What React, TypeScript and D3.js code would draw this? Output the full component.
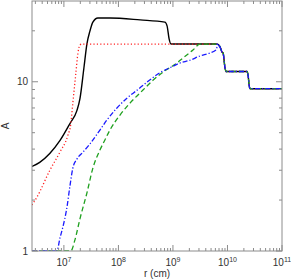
import React from 'react';
import * as d3 from 'd3';

type Pt = [number, number];

// shared step-down tail after all four models converge
const sharedTail: Pt[] = [
  [6.4e9, 16.7], [7.3e9, 16.1], [7.9e9, 15.0], [8.3e9, 14.8], [9.0e9, 12.1], [9.4e9, 11.5],
  [2.28e10, 11.5], [2.4e10, 10.8], [2.5e10, 9.5], [2.6e10, 9.1], [1e11, 9.1]
];

const solidCurve: Pt[] = [
  [2.6e6, 3.16], [3.6e6, 3.34], [5.5e6, 3.77], [8.5e6, 4.5], [1.29e7, 5.66], [1.73e7, 6.75],
  [1.97e7, 7.94], [2.33e7, 12.1], [2.64e7, 16.7], [3.0e7, 19.9], [3.4e7, 22.5], [4.2e7, 23.8],
  [7.0e7, 23.8], [2.5e8, 23.2], [7.1e8, 22.5], [7.8e8, 21.4], [8.5e8, 17.9], [9.2e8, 16.7]
];

const dottedCurve: Pt[] = [
  [2.6e6, 1.87], [3.2e6, 2.08], [5.5e6, 2.99], [8.5e6, 3.85], [1.18e7, 4.81], [1.34e7, 5.66],
  [1.46e7, 7.52], [1.66e7, 11.3], [1.81e7, 14.8], [1.97e7, 16.5], [2.14e7, 16.7]
];

const dashDotCurve: Pt[] = [
  [2.6e6, 1], [7.45e6, 1], [8.45e6, 1.19], [9.6e6, 1.39], [1.14e7, 1.82], [1.29e7, 2.42],
  [1.46e7, 3.09], [1.73e7, 3.49], [2.24e7, 3.84], [3.0e7, 4.29], [4.58e7, 5.18], [6.15e7, 5.94],
  [9.4e7, 7.0], [1.43e8, 8.0], [2.18e8, 8.9], [3.34e8, 9.95], [5.77e8, 11.3], [8.8e8, 12.1],
  [1.34e9, 12.9], [2.05e9, 13.4], [3.13e9, 14.2], [4.78e9, 14.8], [6.15e9, 15.4], [6.7e9, 16.5],
  [7.3e9, 16.0], [7.9e9, 15.0]
];

const dashedCurve: Pt[] = [
  [2.6e6, 1], [1.34e7, 1], [1.59e7, 1.16], [1.97e7, 1.55], [2.64e7, 2.2], [3.4e7, 3.09],
  [4.58e7, 3.95], [5.65e7, 4.53], [6.98e7, 5.18], [1.07e8, 6.36], [1.63e8, 7.48], [2.82e8, 8.93],
  [4.3e8, 10.2], [6.56e8, 11.4], [1.18e9, 12.9], [1.52e9, 13.8], [2.33e9, 15.4], [3.13e9, 16.7]
];

const xDecades = [7, 8, 9, 10, 11];
const yMajor = [1, 10];

const W = 291;
const H = 280;
const margin = { top: 1, right: 9, bottom: 29, left: 32 };
const axisColor = '#8c8c8c';
const textColor = '#333';
const font = '"Liberation Sans", Arial, sans-serif';

export default function App() {
  const x = d3.scaleLog().domain([2.6e6, 1e11]).range([margin.left, W - margin.right]);
  const y = d3.scaleLog().domain([1, 30]).range([H - margin.bottom, margin.top]);
  const [x0, x1] = x.range();
  const [y0, y1] = y.range();

  const line = d3.line<Pt>()
    .x((d) => x(d[0]))
    .y((d) => y(d[1]))
    .curve(d3.curveMonotoneX);

  const tail = sharedTail;
  const series = [
    { data: solidCurve.concat(tail), color: '#000', dash: 'none', width: 1.4 },
    { data: dottedCurve.concat(tail), color: '#ff2020', dash: '1.2,2.2', width: 1.3 },
    { data: dashedCurve.concat(tail), color: '#1fa01f', dash: '5,3', width: 1.3 },
    { data: dashDotCurve.concat(tail), color: '#1a1aff', dash: '5,2,1.2,2', width: 1.3 }
  ];

  const xMinor: number[] = [];
  for (let k = 6; k <= 10; k += 1) {
    for (let m = 2; m <= 9; m += 1) {
      const v = m * 10 ** k;
      if (v > 2.6e6 && v < 1e11) xMinor.push(v);
    }
  }
  const yMinor = [2, 3, 4, 5, 6, 7, 8, 9, 20];

  return (
    <div style={{ position: 'absolute', left: 0, top: 0 }}>
      <svg width={W} height={H} style={{ display: 'block', background: '#fff' }}>
        <defs>
          <clipPath id="plot">
            <rect x={x0} y={y1} width={x1 - x0} height={y0 - y1} />
          </clipPath>
        </defs>

        <g clipPath="url(#plot)" fill="none">
          {series.map((s, i) => (
            <path key={i} d={line(s.data) || ''} stroke={s.color} strokeWidth={s.width}
              strokeDasharray={s.dash} strokeLinejoin="round" />
          ))}
        </g>

        <g stroke={axisColor} strokeWidth={1}>
          <rect x={x0} y={y1} width={x1 - x0} height={y0 - y1} fill="none" />
          {xDecades.map((k) => {
            const px = x(10 ** k);
            return (
              <g key={`xm${k}`}>
                <line x1={px} x2={px} y1={y0} y2={y0 - 6} />
                <line x1={px} x2={px} y1={y1} y2={y1 + 6} />
              </g>
            );
          })}
          {xMinor.map((v) => {
            const px = x(v);
            return (
              <g key={`xn${v}`}>
                <line x1={px} x2={px} y1={y0} y2={y0 - 3} />
                <line x1={px} x2={px} y1={y1} y2={y1 + 3} />
              </g>
            );
          })}
          {yMajor.map((v) => (
            <g key={`ym${v}`}>
              <line x1={x0} x2={x0 + 6} y1={y(v)} y2={y(v)} />
              <line x1={x1} x2={x1 - 6} y1={y(v)} y2={y(v)} />
            </g>
          ))}
          {yMinor.map((v) => (
            <g key={`yn${v}`}>
              <line x1={x0} x2={x0 + 3} y1={y(v)} y2={y(v)} />
              <line x1={x1} x2={x1 - 3} y1={y(v)} y2={y(v)} />
            </g>
          ))}
        </g>

        <g fill={textColor} fontFamily={font} fontSize={10}>
          {xDecades.map((k) => (
            <text key={`xl${k}`} x={x(10 ** k)} y={y0 + 15} textAnchor="middle">
              10<tspan fontSize={7} dy={-4}>{k}</tspan>
            </text>
          ))}
          {yMajor.map((v) => (
            <text key={`yl${v}`} x={x0 - 4} y={y(v) + 3.5} textAnchor="end">{v}</text>
          ))}
          <text x={(x0 + x1) / 2} y={H - 3} textAnchor="middle">r (cm)</text>
          <text transform={`translate(9,${(y0 + y1) / 2}) rotate(-90)`} textAnchor="middle">A</text>
        </g>
      </svg>
    </div>
  );
}
